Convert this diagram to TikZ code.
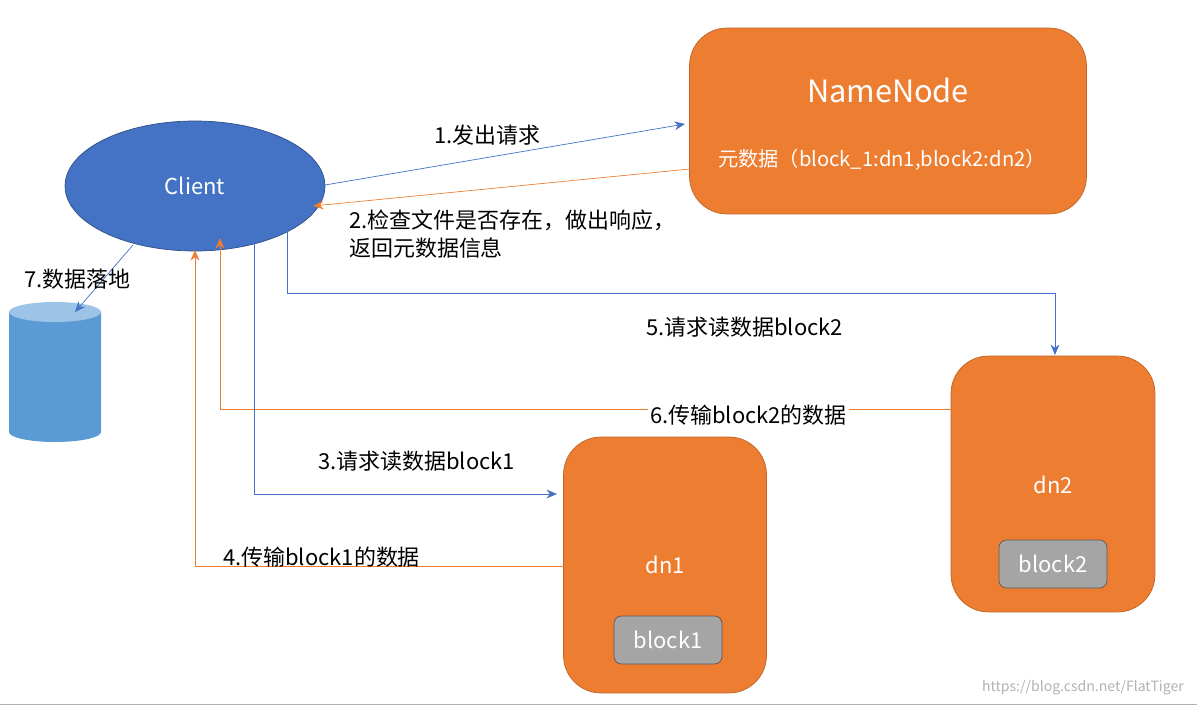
\documentclass[tikz,border=0pt]{standalone}
\usepackage{fontspec}
\setmainfont{Noto Sans CJK SC}
\usetikzlibrary{shapes.geometric,arrows.meta}
\definecolor{cblue}{HTML}{4472C4}
\definecolor{corange}{HTML}{ED7D31}
\definecolor{cgray}{HTML}{A5A5A5}
\definecolor{ccyl}{HTML}{5B9BD5}
\begin{document}
\begin{tikzpicture}[
	x=0.02cm, y=-0.02cm,
	box/.style={draw=corange!80!black, fill=corange, rounded corners=0.75cm, text=white},
	blk/.style={draw=gray!70!black, fill=cgray, rounded corners=0.15cm, text=white, minimum width=2.16cm, minimum height=0.96cm, font=\fontsize{12.5}{14}\selectfont},
	lbl/.style={font=\fontsize{12.5}{16}\selectfont, anchor=west, align=left},
	bline/.style={cblue, -{Stealth[length=6pt,width=5pt]}},
	oline/.style={corange, -{Stealth[length=6pt,width=5pt]}}
	]
	\useasboundingbox (0,0) rectangle (1197,706);
	\draw[gray!60] (0,704) -- (1197,704);
	% Client
	\node[ellipse, draw=cblue!70!black, fill=cblue, text=white, minimum width=5.2cm, minimum height=2.6cm, font=\fontsize{12.5}{14}\selectfont] (client) at (195,186) {Client};
	% NameNode
	\node[box, minimum width=7.94cm, minimum height=3.72cm] (nn) at (888,121) {};
	\node[text=white, font=\fontsize{17.5}{20}\selectfont] (nnt) at (888,90) {NameNode};
	\node[text=white, font=\fontsize{11.5}{14}\selectfont] (meta) at (882,160) {元数据（block\_1:dn1,block2:dn2）};
	% DataNodes
	\node[box, minimum width=4.06cm, minimum height=5.12cm] (dn1) at (665,565) {};
	\node[text=white, font=\fontsize{12.5}{14}\selectfont] at (665,565) {dn1};
	\node[blk] (b1) at (668,640) {block1};
	\node[box, minimum width=4.08cm, minimum height=5.12cm] (dn2) at (1053,484) {};
	\node[text=white, font=\fontsize{12.5}{14}\selectfont] at (1053,485) {dn2};
	\node[blk] (b2) at (1053,564) {block2};
	% Disk
	\fill[ccyl] (9,312) -- (9,432) arc[start angle=180, end angle=0, x radius=46, y radius=10] -- (101,312) -- cycle;
	\fill[ccyl!60!white] (55,312) ellipse[x radius=46, y radius=10];
	\coordinate (disk) at (75,312);
	% Connectors
	\coordinate (c1) at (325,185); \coordinate (n1) at (685,124);
	\draw[bline] (c1) -- (n1);
	\node[lbl] at (428,135) {1.发出请求};
	\coordinate (n2) at (690,169); \coordinate (c2) at (313,206);
	\draw[oline] (n2) -- (c2);
	\node[lbl] at (343,234) {2.检查文件是否存在，做出响应，\\返回元数据信息};
	\coordinate (c5) at (287,230); \coordinate (d5) at (1055,355);
	\draw[bline] (c5) |- (1055,293) -- (d5);
	\node[lbl] at (640,327) {5.请求读数据block2};
	\coordinate (d6) at (951,409); \coordinate (c6) at (220,238);
	\draw[oline] (d6) -- (220,409) -- (c6);
	\node[lbl, fill=white, inner sep=1pt] at (648,415) {6.传输block2的数据};
	\coordinate (c3) at (254,240); \coordinate (d3) at (557,494);
	\draw[bline] (c3) |- (d3);
	\node[lbl] at (312,461) {3.请求读数据block1};
	\coordinate (d4) at (564,566); \coordinate (c4) at (195,250);
	\draw[oline] (d4) -| (c4);
	\node[lbl] at (217,557) {4.传输block1的数据};
	\coordinate (c7) at (133,245);
	\draw[bline] (c7) -- (disk);
	\node[lbl] at (18,279) {7.数据落地};
	\node[text=gray!60, font=\fontsize{8}{10}\selectfont, anchor=east] at (1190,688) {https://blog.csdn.net/FlatTiger};
\end{tikzpicture}
\end{document}
